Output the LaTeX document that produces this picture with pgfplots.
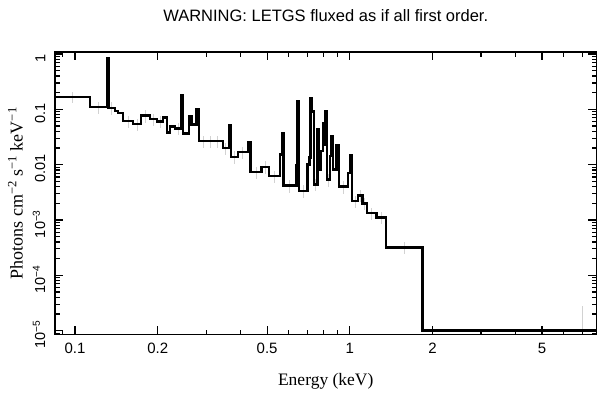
\documentclass[border=0pt]{standalone}
\usepackage{pgfplots}
\pgfplotsset{compat=1.18}
\usepackage{fontspec}
\setmainfont{Liberation Serif}
\newfontfamily\helv{Liberation Sans}
\begin{document}
\begin{tikzpicture}
\begin{axis}[
  at={(0,0)}, anchor=south west,
  scale only axis, width=541.5bp, height=282.5bp,
  xmode=log, ymode=log,
  xmin=0.0846, xmax=7.89, ymin=8.5e-6, ymax=1.087,
  xtick={0.1,0.2,0.5,1,2,5},
  xticklabels={0.1,0.2,0.5,1,2,5},
  minor xtick={0.09,0.3,0.4,0.6,0.7,0.8,0.9,3,4,6,7},
  ytick={1e-5,1e-4,1e-3,1e-2,1e-1,1},
  yticklabels={10\textsuperscript{−5},10\textsuperscript{−4},10\textsuperscript{−3},0.01,0.1,1},
  minor ytick={9e-6,2e-5,3e-5,4e-5,5e-5,6e-5,7e-5,8e-5,9e-5,2e-4,3e-4,4e-4,5e-4,6e-4,7e-4,8e-4,9e-4,2e-3,3e-3,4e-3,5e-3,6e-3,7e-3,8e-3,9e-3,2e-2,3e-2,4e-2,5e-2,6e-2,7e-2,8e-2,9e-2,0.2,0.3,0.4,0.5,0.6,0.7,0.8,0.9},
  tick align=inside, tick pos=both,
  major tick length=8.5bp, minor tick length=5bp,
  every tick/.style={black, line width=1.2bp},
  axis line style={black, line width=1.8bp},
  xticklabel style={font=\helv\fontsize{15bp}{15bp}\selectfont, anchor=north, inner sep=0pt},
  xticklabel shift=8.5bp,
  yticklabel style={font=\helv\fontsize{14.5bp}{14.5bp}\selectfont, rotate=90, anchor=south, inner sep=0pt, xshift=-4bp},
  yticklabel shift=9.5bp,
  clip=true,
]
\addplot[gray!35, line width=0.8bp, draw=none, mark=none,
  error bars/.cd, y dir=both, y explicit,
  error bar style={gray!35, line width=0.8bp}, error mark=none]
  coordinates {
  (0.098,0.1685) +- (0,0.04)
  (0.1216,0.110) +- (0,0.027)
  (0.136,0.1069) +- (0,0.027)
  (0.156,0.0611) +- (0,0.015)
  (0.168,0.054) +- (0,0.013)
  (0.180,0.0767) +- (0,0.019)
  (0.193,0.0664) +- (0,0.016)
  (0.204,0.0606) +- (0,0.015)
  (0.237,0.0448) +- (0,0.011)
  (0.293,0.0267) +- (0,0.0066)
  (0.31,0.0267) +- (0,0.0066)
  (0.33,0.0267) +- (0,0.0066)
  (0.354,0.0201) +- (0,0.005)
  (0.38,0.01387) +- (0,0.0035)
  (0.408,0.01678) +- (0,0.0042)
  (0.456,0.00733) +- (0,0.0018)
  (0.493,0.00917) +- (0,0.0023)
  (0.532,0.00621) +- (0,0.0016)
  (0.605,0.00423) +- (0,0.0011)
  (0.677,0.00337) +- (0,0.00085)
  (0.75,0.0044) +- (0,0.0011)
  (0.835,0.00542) +- (0,0.0014)
  (0.948,0.0040) +- (0,0.001)
  (1.045,0.00218) +- (0,0.00055)
  (1.09,0.00279) +- (0,0.0007)
  (1.133,0.0020) +- (0,0.0005)
  (1.20,0.00133) +- (0,0.00033)
  (1.30,0.00111) +- (0,0.00028)
  (1.58,0.00032) +- (0,0.00008)
  (7.0,0.0000105) +- (0,0.0000175)
  };
\addplot[const plot, black, line width=2.4bp, mark=none] coordinates {
(0.08,0.1685)
(0.1134,0.1100)
(0.1310,0.847)
(0.1324,0.1069)
(0.1398,0.0944)
(0.1433,0.0851)
(0.1494,0.0611)
(0.1625,0.0540)
(0.1738,0.0767)
(0.1874,0.0664)
(0.1987,0.0606)
(0.2089,0.0706)
(0.2160,0.0379)
(0.2215,0.0493)
(0.2310,0.0448)
(0.2428,0.1831)
(0.2469,0.0364)
(0.2597,0.0736)
(0.2652,0.0528)
(0.2766,0.1025)
(0.2825,0.0267)
(0.3452,0.0201)
(0.3631,0.0513)
(0.3693,0.01387)
(0.3916,0.01678)
(0.4257,0.0254)
(0.4354,0.00733)
(0.4775,0.00917)
(0.5088,0.00621)
(0.5565,0.01526)
(0.5658,0.0375)
(0.5730,0.00423)
(0.6399,0.00967)
(0.6431,0.1387)
(0.6523,0.00337)
(0.7018,0.01008)
(0.7124,0.01348)
(0.7185,0.1597)
(0.7294,0.0917)
(0.7399,0.00440)
(0.7616,0.0430)
(0.7713,0.00820)
(0.7810,0.01749)
(0.7976,0.0567)
(0.8077,0.0231)
(0.8146,0.0917)
(0.8248,0.00542)
(0.8457,0.01422)
(0.8580,0.0326)
(0.8694,0.00820)
(0.8932,0.02215)
(0.9120,0.00400)
(0.9859,0.00715)
(1.0042,0.01464)
(1.0195,0.00218)
(1.0719,0.00279)
(1.1101,0.00200)
(1.1559,0.00133)
(1.2507,0.00111)
(1.3518,0.00032)
(1.838,0.00001)
(8.5,0.00001)
};
\end{axis}
\node[anchor=base, font=\helv\fontsize{16.5bp}{16.5bp}\selectfont] at (270.75bp,312.5bp) {WARNING: LETGS fluxed as if all first order.};
\node[anchor=base, font=\fontsize{17.5bp}{17.5bp}\selectfont] at (270.75bp,-50.5bp) {Energy (keV)};
\node[rotate=90, anchor=base, font=\fontsize{18bp}{18bp}\selectfont] at (-32.5bp,141.25bp) {Photons cm\textsuperscript{−2} s\textsuperscript{−1} keV\textsuperscript{−1}};
\pgfresetboundingbox
\useasboundingbox (-55bp,-63.5bp) rectangle (554bp,334.5bp);
\end{tikzpicture}
\end{document}
